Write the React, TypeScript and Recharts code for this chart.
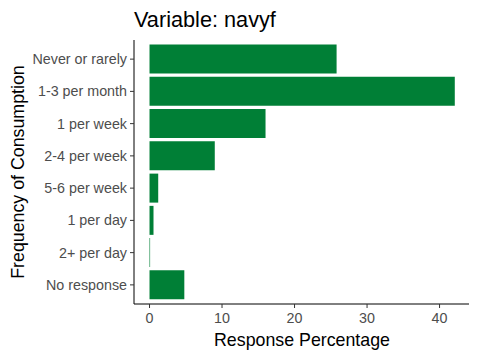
import React from "react";
import { BarChart, Bar, XAxis, YAxis } from "recharts";

const categories = [
  "Never or rarely",
  "1-3 per month",
  "1 per week",
  "2-4 per week",
  "5-6 per week",
  "1 per day",
  "2+ per day",
  "No response",
];
const percentages = [25.8, 42.1, 16.0, 9.0, 1.2, 0.55, 0.08, 4.8];
const xTicks = [0, 10, 20, 30, 40];

const data = categories.map((name, i) => ({ name, value: percentages[i] }));

const FONT = "'Liberation Sans', Arial, sans-serif";

export default function App() {
  return (
    <div style={{ position: "absolute", left: 0, top: 0, width: 480, height: 360, background: "#fff", fontFamily: FONT }}>
      <BarChart
        width={480}
        height={360}
        data={data}
        layout="vertical"
        margin={{ top: 40, right: 11, bottom: 0, left: 0 }}
        barCategoryGap="5%"
      >
        <XAxis
          type="number"
          domain={[-2.14, 44.06]}
          ticks={xTicks}
          allowDataOverflow
          height={56}
          tickSize={4}
          tickMargin={5}
          axisLine={{ stroke: "#000", strokeWidth: 1 }}
          tickLine={{ stroke: "#333", strokeWidth: 1 }}
          tick={{ fill: "#4d4d4d", fontSize: 14.3, fontFamily: FONT }}
        />
        <YAxis
          type="category"
          dataKey="name"
          width={134}
          padding={{ top: 3, bottom: 3 }}
          tickSize={4}
          tickMargin={3}
          axisLine={{ stroke: "#000", strokeWidth: 1 }}
          tickLine={{ stroke: "#333", strokeWidth: 1 }}
          tick={{ fill: "#4d4d4d", fontSize: 14.3, fontFamily: FONT }}
        />
        <Bar dataKey="value" fill="#007F36" isAnimationActive={false} />
      </BarChart>
      <svg width={480} height={360} style={{ position: "absolute", left: 0, top: 0, pointerEvents: "none" }}>
        <text x={134} y={27} fontSize={21.7} fill="#000" fontFamily={FONT}>
          Variable: navyf
        </text>
        <text x={302} y={346} fontSize={17.8} fill="#000" textAnchor="middle" fontFamily={FONT}>
          Response Percentage
        </text>
        <text
          x={24}
          y={172}
          fontSize={17.8}
          fill="#000"
          textAnchor="middle"
          fontFamily={FONT}
          transform="rotate(-90 24 172)"
        >
          Frequency of Consumption
        </text>
      </svg>
    </div>
  );
}
